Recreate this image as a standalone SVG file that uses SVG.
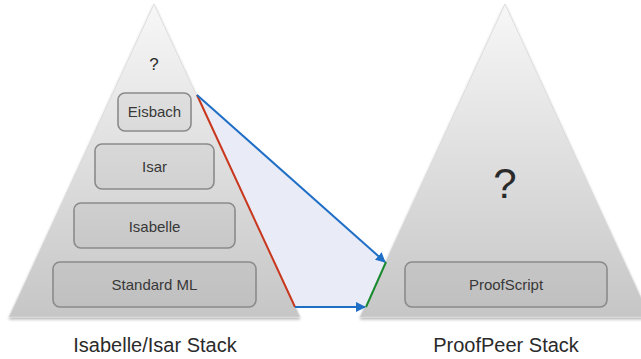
<svg xmlns="http://www.w3.org/2000/svg" width="641" height="359" viewBox="0 0 641 359">
<defs>
<linearGradient id="tri" x1="0" y1="0" x2="0" y2="1">
<stop offset="0" stop-color="#f7f7f7"/>
<stop offset="1" stop-color="#c6c6c6"/>
</linearGradient>
<filter id="sh" x="-10%" y="-10%" width="120%" height="120%">
<feGaussianBlur in="SourceAlpha" stdDeviation="1.5"/>
<feOffset dy="1.5"/>
<feComponentTransfer><feFuncA type="linear" slope="0.3"/></feComponentTransfer>
<feMerge><feMergeNode/><feMergeNode in="SourceGraphic"/></feMerge>
</filter>
<marker id="ah" viewBox="0 0 10 10" refX="9" refY="5" markerWidth="10" markerHeight="10" markerUnits="userSpaceOnUse" orient="auto">
<path d="M0,0 L10,5 L0,10 z" fill="#1f6fc6"/>
</marker>
<style>
.tri{fill:url(#tri);stroke:#d8d8d8;stroke-width:0.8;filter:url(#sh)}
.box{fill:#000;fill-opacity:0.04;stroke:#8a8a8a;stroke-width:1.6}
.bt{font-family:"Liberation Sans",Arial,sans-serif;font-size:15px;fill:#383838;text-anchor:middle}
.lbl{font-family:"Liberation Sans",Arial,sans-serif;font-size:20px;fill:#2a2a2a;text-anchor:middle}
.q{font-family:"Liberation Sans",Arial,sans-serif;fill:#2a2a2a;text-anchor:middle}
.blue{stroke:#1f6fc6;stroke-width:2;fill:none;marker-end:url(#ah)}
</style>
</defs>
<g id="left-stack">
<polygon class="tri" points="154,4 300,317 9,317"/>
<text class="q" x="154" y="70" font-size="17">?</text>
</g>
<g id="right-stack">
<polygon class="tri" points="505,4 650,317 360,317"/>
<text class="q" x="505" y="198" font-size="42">?</text>
</g>
<g id="connectors">
<polygon points="197,95 385,263 366,307 295,307" fill="#e9ebf7"/>
<line x1="197" y1="95" x2="295" y2="307" stroke="#c8361c" stroke-width="2"/>
<line class="blue" x1="197" y1="95" x2="385" y2="262"/>
<line class="blue" x1="295" y1="307" x2="365" y2="307"/>
<line x1="386" y1="262" x2="366" y2="307" stroke="#1a8a2e" stroke-width="2"/>
</g>
<g id="eisbach">
<rect class="box" x="118" y="93" width="73" height="38" rx="7"/>
<text class="bt" x="154.5" y="117">Eisbach</text>
</g>
<g id="isar">
<rect class="box" x="95" y="144" width="119" height="45" rx="7"/>
<text class="bt" x="154.5" y="172">Isar</text>
</g>
<g id="isabelle">
<rect class="box" x="74" y="203" width="161" height="45" rx="7"/>
<text class="bt" x="154.5" y="232">Isabelle</text>
</g>
<g id="standard-ml">
<rect class="box" x="53" y="262" width="203" height="45" rx="7"/>
<text class="bt" x="154.5" y="290">Standard ML</text>
</g>
<g id="proofscript">
<rect class="box" x="405" y="262" width="202" height="45" rx="7"/>
<text class="bt" x="506" y="290">ProofScript</text>
</g>
<g id="labels">
<text class="lbl" x="155" y="352">Isabelle/Isar Stack</text>
<text class="lbl" x="506" y="352">ProofPeer Stack</text>
</g>
</svg>
